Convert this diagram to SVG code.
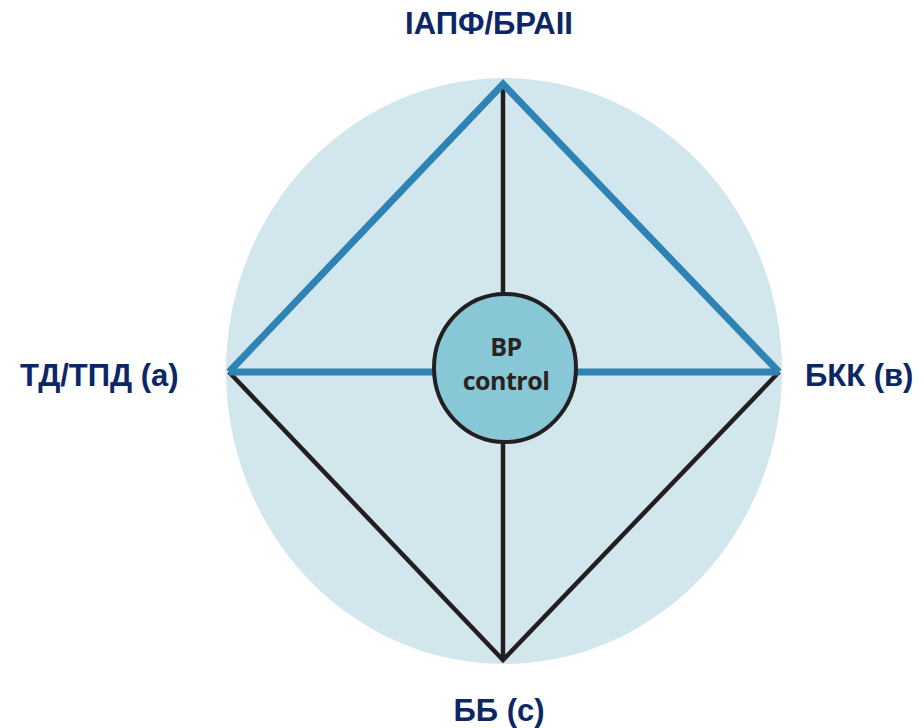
<svg xmlns="http://www.w3.org/2000/svg" width="924" height="728" viewBox="0 0 924 728">
<style>
.lbl{font-family:"Liberation Sans",Arial,sans-serif;font-weight:bold;font-size:31px;fill:#0b2766}
.blk{stroke:#231f20;stroke-width:4.5;fill:none}
.blu{stroke:#2f82b4;stroke-width:7;fill:none;stroke-linejoin:miter}
.ctr{font-family:"Open Sans","Liberation Sans",sans-serif;font-weight:bold;font-size:25px;fill:#2b2222;text-anchor:middle;letter-spacing:-0.5px}
</style>
<rect width="924" height="728" fill="#ffffff"/>
<ellipse cx="504" cy="371" rx="278" ry="293" fill="#d1e7ed"/>
<g id="connectors">
<line class="blk" x1="503" y1="84" x2="503" y2="300"/>
<line class="blk" x1="503" y1="440" x2="503" y2="660"/>
<polyline class="blk" points="229,372 503,660 779,372" stroke-linejoin="miter"/>
<polyline class="blu" points="229,372 503,84 779,372"/>
<line class="blu" x1="229" y1="372" x2="440" y2="372"/>
<line class="blu" x1="570" y1="372" x2="779" y2="372"/>
</g>
<g id="center">
<ellipse cx="505" cy="368" rx="71" ry="74" fill="#88c8d6" stroke="#231f20" stroke-width="4"/>
<text class="ctr" x="506" y="356">BP</text>
<text class="ctr" x="506" y="390">control</text>
</g>
<g id="top"><text class="lbl" x="489" y="34" text-anchor="middle">ІАПФ/БРАІІ</text></g>
<g id="left"><text class="lbl" x="20" y="386">ТД/ТПД (а)</text></g>
<g id="right"><text class="lbl" x="805" y="386">БКК (в)</text></g>
<g id="bottom"><text class="lbl" x="499" y="721" text-anchor="middle">ББ (с)</text></g>
</svg>
